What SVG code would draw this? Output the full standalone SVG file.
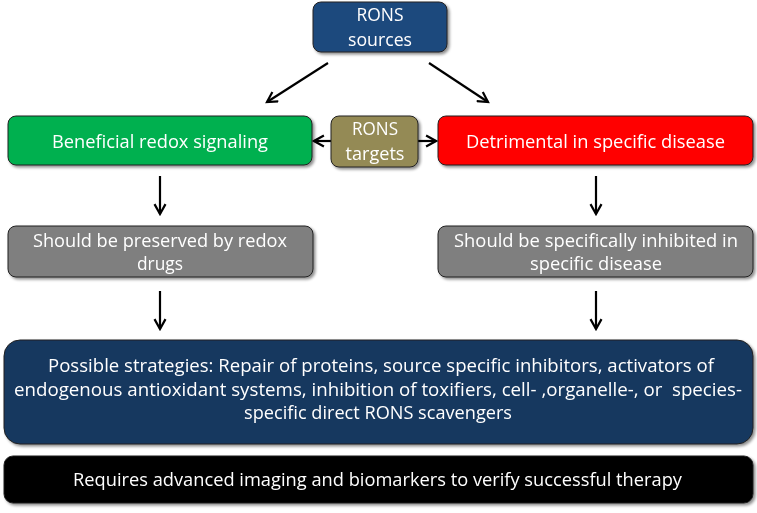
<svg xmlns="http://www.w3.org/2000/svg" width="757" height="513" viewBox="0 0 757 513">
<style>
.t{font-family:"Open Sans",Lato,"Liberation Sans",sans-serif;fill:#fff;font-size:18px;text-anchor:middle}
.b{stroke:#222;stroke-width:1}
.c{stroke:#000;stroke-width:2.2;fill:none;marker-end:url(#ah)}
</style>
<defs>
<marker id="ah" viewBox="0 0 12 12" refX="10" refY="6" markerWidth="6" markerHeight="6" markerUnits="strokeWidth" orient="auto">
<path d="M1,1 L10,6 L1,11" fill="none" stroke="#000" stroke-width="2"/>
</marker>
<filter id="sh" x="-5%" y="-10%" width="110%" height="130%">
<feGaussianBlur in="SourceAlpha" stdDeviation="1.5"/>
<feOffset dx="1.5" dy="2" result="o"/>
<feComponentTransfer><feFuncA type="linear" slope="0.45"/></feComponentTransfer>
<feMerge><feMergeNode/><feMergeNode in="SourceGraphic"/></feMerge>
</filter>
</defs>
<g id="connectors">
<line class="c" x1="328" y1="63" x2="267" y2="102"/>
<line class="c" x1="429" y1="63" x2="488" y2="102"/>
<line class="c" x1="331" y1="141" x2="314" y2="141"/>
<line class="c" x1="418" y1="141" x2="436" y2="141"/>
<line class="c" x1="160" y1="176" x2="160" y2="214"/>
<line class="c" x1="596" y1="176" x2="596" y2="214"/>
<line class="c" x1="160" y1="291" x2="160" y2="329"/>
<line class="c" x1="596" y1="291" x2="596" y2="329"/>
</g>
<g id="rons-sources" filter="url(#sh)">
<rect class="b" x="313" y="2" width="134" height="50" rx="8" fill="#1f497d"/>
<text class="t" x="380" y="21" textLength="47" lengthAdjust="spacingAndGlyphs">RONS</text>
<text class="t" x="380" y="46" textLength="64" lengthAdjust="spacingAndGlyphs">sources</text>
</g>
<g id="beneficial" filter="url(#sh)">
<rect class="b" x="8" y="116" width="304" height="49" rx="8" fill="#00b050"/>
<text class="t" x="160" y="148" textLength="216" lengthAdjust="spacingAndGlyphs">Beneficial redox signaling</text>
</g>
<g id="rons-targets" filter="url(#sh)">
<rect class="b" x="331" y="116" width="87" height="51" rx="8" fill="#948a54"/>
<text class="t" x="375" y="135" textLength="46" lengthAdjust="spacingAndGlyphs">RONS</text>
<text class="t" x="375" y="160" textLength="59" lengthAdjust="spacingAndGlyphs">targets</text>
</g>
<g id="detrimental" filter="url(#sh)">
<rect class="b" x="438" y="116" width="315" height="49" rx="8" fill="#ff0000"/>
<text class="t" x="595.5" y="148" textLength="259" lengthAdjust="spacingAndGlyphs">Detrimental in specific disease</text>
</g>
<g id="preserved" filter="url(#sh)">
<rect class="b" x="8" y="226" width="305" height="51" rx="8" fill="#7f7f7f"/>
<text class="t" x="160" y="247" textLength="254" lengthAdjust="spacingAndGlyphs">Should be preserved by redox</text>
<text class="t" x="160" y="270" textLength="46" lengthAdjust="spacingAndGlyphs">drugs</text>
</g>
<g id="inhibited" filter="url(#sh)">
<rect class="b" x="438" y="226" width="315" height="51" rx="8" fill="#7f7f7f"/>
<text class="t" x="596" y="247" textLength="284" lengthAdjust="spacingAndGlyphs">Should be specifically inhibited in</text>
<text class="t" x="596" y="270" textLength="132" lengthAdjust="spacingAndGlyphs">specific disease</text>
</g>
<g id="strategies" filter="url(#sh)">
<rect class="b" x="4" y="340" width="749" height="104" rx="16" fill="#17375e"/>
<text class="t" x="381" y="372" textLength="666" lengthAdjust="spacingAndGlyphs">Possible strategies: Repair of proteins, source specific inhibitors, activators of</text>
<text class="t" x="378" y="396" textLength="728" lengthAdjust="spacingAndGlyphs" xml:space="preserve">endogenous antioxidant systems, inhibition of toxifiers, cell- ,organelle-, or  species-</text>
<text class="t" x="378" y="419" textLength="268" lengthAdjust="spacingAndGlyphs">specific direct RONS scavengers</text>
</g>
<g id="imaging" filter="url(#sh)">
<rect class="b" x="4" y="456" width="749" height="47" rx="9" fill="#000"/>
<text class="t" x="377.5" y="486" textLength="609" lengthAdjust="spacingAndGlyphs">Requires advanced imaging and biomarkers to verify successful therapy</text>
</g>
</svg>
